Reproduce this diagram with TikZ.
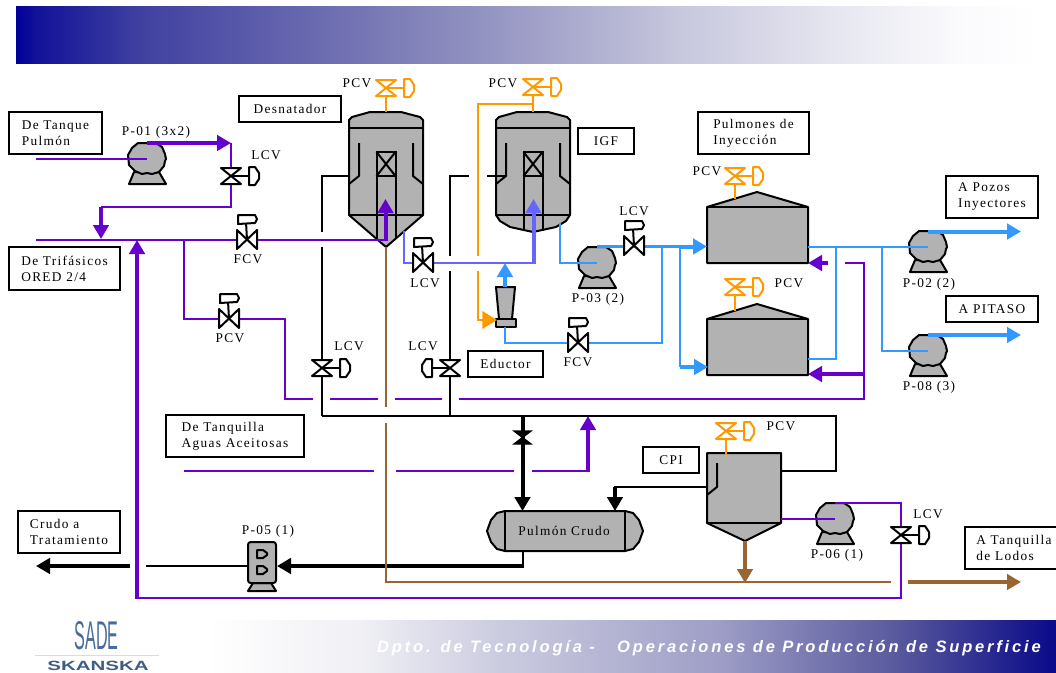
\documentclass[tikz,border=0pt]{standalone}
\usepackage{fontspec}
\usepackage{graphicx}
\usetikzlibrary{arrows.meta,calc}
\setmainfont[LetterSpace=10]{Liberation Serif}
\newfontfamily\footfont[LetterSpace=17]{Liberation Sans}
\newfontfamily\logofont{Liberation Sans}
\definecolor{purp}{HTML}{6600CC}
\definecolor{sky}{HTML}{3399FF}
\definecolor{peri}{HTML}{6666FF}
\definecolor{oran}{HTML}{FF9900}
\definecolor{brwn}{HTML}{996633}
\definecolor{eq}{HTML}{B2B2B2}
\definecolor{logoblue}{HTML}{4A6C9C}
\pgfdeclarehorizontalshading{headshade}{100bp}{
  rgb(0bp)=(0,0,0.6);
  rgb(25bp)=(0,0,0.6);
  rgb(26bp)=(0.07,0.07,0.6);
  rgb(31bp)=(0.25,0.25,0.63);
  rgb(45bp)=(0.52,0.52,0.73);
  rgb(50bp)=(0.62,0.62,0.78);
  rgb(57.5bp)=(0.78,0.78,0.87);
  rgb(65bp)=(0.90,0.90,0.94);
  rgb(71bp)=(0.98,0.98,0.99);
  rgb(75bp)=(1,1,1);
  rgb(100bp)=(1,1,1)}
\pgfdeclarehorizontalshading{footshade}{100bp}{
  rgb(0bp)=(1,1,1);
  rgb(25bp)=(1,1,1);
  rgb(34bp)=(0.94,0.94,0.96);
  rgb(42bp)=(0.80,0.80,0.88);
  rgb(55bp)=(0.62,0.62,0.78);
  rgb(65.5bp)=(0.35,0.35,0.62);
  rgb(73bp)=(0.10,0.10,0.55);
  rgb(75bp)=(0.04,0.04,0.55);
  rgb(100bp)=(0.04,0.04,0.55)}
\tikzset{
  txt/.style={font=\fontsize{10}{12}\selectfont,inner sep=0pt,align=left},
  box/.style={draw=black,line width=1.5pt,fill=white,font=\fontsize{10}{12}\selectfont,inner sep=0pt,align=left},
  eqp/.style={draw=black,fill=eq,line width=1.5pt,line join=round},
  ln/.style={draw=black,line width=1.5pt},
  pur/.style={draw=purp,line width=1.5pt},
  sky1/.style={draw=sky,line width=1.5pt},
  per1/.style={draw=peri,line width=1.8pt},
  ora1/.style={draw=oran,line width=1.5pt},
  brw1/.style={draw=brwn,line width=1.5pt},
  ar/.style={line width=3pt,-{Triangle[length=10.5pt,width=11.5pt]}},
  pics/pump/.style={code={
    \path[eqp] (-13,13)--(-18,25)--(19,25)--(12,13)--cycle;
    \path[eqp] (-9,-16)--(9,-16)--(15,-12)--(18,-5)--(19,0)--(18,2)--(17,7)--(12,13)--(5,15)--(0,14)--(-5,15)--(-12,12)--(-18,6)--(-19,-4)--(-15,-11)--cycle;
  }},
  pics/lcv/.style={code={
    \draw[#1,line width=1.5pt,line join=miter] (0,0)--(18,0);
    \draw[#1,fill=white,line width=1.5pt,line join=round] (-10,-8)--(10,-8)--(-10,8)--(10,8)--cycle;
    \draw[#1,fill=white,line width=1.5pt,line join=round] (18,-9)--(24,-9)--(28,-3)--(28,3)--(24,9)--(18,9)--cycle;
  }},
  pics/fcv/.style={code={
    \draw[#1,line width=1.5pt] (0,0)--(-1,-18);
    \draw[#1,fill=white,line width=1.5pt,line join=round] (-10,-10)--(10,9)--(10,-10)--(-10,9)--cycle;
    \draw[#1,fill=white,line width=1.5pt,line join=round] (-9,-25)--(8,-25)--(10,-21)--(8,-17)--(-9,-16)--(-9,-20)--cycle;
  }},
  pics/tank/.style={code={
    \path[eqp] (-50,15)--(0,0)--(51,15)--(51,71)--(-50,71)--cycle;
    \draw[line width=1.5pt] (-50,15)--(51,15);
  }},
  pics/internals/.style={code={
    \draw[line width=1.5pt] (-27,31)--(-27,64)--(-37,72);
    \draw[line width=1.5pt] (27,31)--(27,64)--(37,72);
    \draw[line width=1.5pt] (-37,16)--(37,16);
    \draw[line width=1.5pt] (-9.5,40) rectangle (9.5,64);
    \draw[line width=1.5pt] (-9.5,40)--(9.5,64) (9.5,40)--(-9.5,64);
    \draw[line width=1.5pt] (-37,103)--(37,103);
  }}
}
\begin{document}
\begin{tikzpicture}[x=0.75pt,y=-0.75pt]
\useasboundingbox (0,0) rectangle (1056,672);
\fill[white] (0,0) rectangle (1056,672);
% bands
\path[shading=headshade] (16,6) rectangle (1038,63);
\path[shading=footshade] (208,620) rectangle (1056,672);
\node[anchor=east,inner sep=0pt,text=white,font=\footfont\fontsize{12.4}{14}\selectfont\bfseries\itshape] (foot) at (1041,648) {Dpto. de Tecnología -\ \ \ Operaciones de Producción de Superficie};
% logo
\node[inner sep=0pt,text=logoblue] (logoA) at (96.5,636) {\resizebox{33pt}{21pt}{\logofont SADE}};
\draw[draw=brwn!25,line width=0.8pt] (35,655.5)--(159,655.5);
\node[inner sep=0pt,text=logoblue!85!black] (logoB) at (98,665.5) {\resizebox{76pt}{7pt}{\logofont\bfseries SKANSKA}};

% key points
\coordinate (p01) at (147,159);
\coordinate (p03) at (597,263);
\coordinate (p02) at (928,247);
\coordinate (p08) at (928,351);
\coordinate (p06) at (835,519);
\coordinate (v1) at (386,112);
\coordinate (v2) at (533,112);
\coordinate (t1) at (757,192);
\coordinate (t2) at (757,304);
\coordinate (apex1) at (386,247);
\coordinate (apexC) at (745,541);
\coordinate (jL) at (322,416);
\coordinate (jR) at (450,416);
\coordinate (topR) at (836,416);

% equipment
\pic (P01) at (p01) {pump};
\pic (P03) at (p03) {pump};
\pic (P02) at (p02) {pump};
\pic (P08) at (p08) {pump};
\pic (P06) at (p06) {pump};
% Desnatador
\path[eqp] (349,215)--(349,120)--(352,117)--(370,112)--(401,112)--(420,117)--(423,120)--(423,215)--(386,247)--cycle;
\pic (I1) at (v1) {internals};
\draw[line width=1.5pt] (377,176)--(377,239) (396,176)--(396,239);
% IGF
\path[eqp] (496,215)--(496,120)--(499,117)--(517,112)--(548,112)--(567,117)--(570,120)--(570,215)--(566,221)--(556,227)--(533,232)--(510,227)--(500,221)--cycle;
\pic (I2) at (v2) {internals};
\draw[line width=1.5pt] (523.5,176)--(523.5,231) (542.5,176)--(542.5,231);
% tanks
\pic (T1) at (t1) {tank};
\pic (T2) at (t2) {tank};
% eductor
\path[eqp] (496,287)--(515,287)--(512,319)--(499,319)--cycle;
\path[eqp] (496,319) rectangle (516,327);
% Pulmon crudo
\path[eqp] (505,511)--(497,513)--(491,520)--(487,531)--(491,542)--(497,549)--(505,551)--(625,551)--(633,549)--(639,542)--(643,531)--(639,520)--(633,513)--(625,511)--cycle;
\draw[line width=1.5pt] (505,511)--(505,551) (625,511)--(625,551);
% CPI tank
\path[eqp] (707,453)--(781,453)--(781,523)--(745,541)--(707,523)--cycle;
\draw[line width=1.5pt] (707,523)--(781,523);
\draw[line width=1.5pt] (717,463)--(717,487)--(707,495);
% P-05
\path[eqp] (253,583)--(248,591)--(276,591)--(271,583)--cycle;
\path[eqp,rounded corners=2pt] (248,542) rectangle (276,583);
\path[eqp] (257,550)--(263,550)--(267,553)--(267,555)--(263,558)--(257,558)--cycle;
\path[eqp] (257,566)--(263,566)--(267,569)--(267,571)--(263,574)--(257,574)--cycle;

% black process lines
\draw[ln] (349,176)--(322,176)--(322,232);
\draw[ln] (322,247)--(jL);
\draw[ln] (jL)--(topR)--(836,471)--(781,471);
\draw[ln] (487,176)--(506,176);
\draw[ln] (469,176)--(450,176)--(450,256);
\draw[ln] (450,271)--(jR);
\draw[ln,line width=2pt] (707,487)--(615,487)--(615,500);
\draw[line width=3pt,-{Triangle[length=10.5pt,width=11.5pt]}] (615,487)--(615,511);
\draw[line width=3pt,-{Triangle[length=10.5pt,width=11.5pt]}] (522.5,416)--(522.5,511);
\draw[ln] (523,551)--(523,566);
\draw[line width=3pt,-{Triangle[length=10.5pt,width=11.5pt]}] (524,566)--(277,566);
\draw[ln] (248,566)--(146,566);
\draw[line width=3pt,-{Triangle[length=10.5pt,width=11.5pt]}] (130,566)--(36,566);

% brown
\draw[brw1] (apex1)--(386,407);
\draw[brw1] (386,423)--(386,582)--(891,582);
\draw[draw=brwn,ar] (apexC)--(745,583);
\draw[draw=brwn,ar] (908,582)--(1021,582);

% purple
\draw[pur] (36,159)--(p01);
\draw[draw=purp,ar] (147,143)--(231,143);
\draw[pur] (231,143)--(231,207)--(101,207);
\draw[draw=purp,ar] (101,207)--(101,239);
\draw[pur] (36,240)--(386,240);
\draw[draw=purp,ar] (385.5,241)--(385.5,199);
\draw[pur] (184,240)--(184,319)--(285,319)--(285,399)--(313,399);
\draw[pur] (330,399)--(378,399);
\draw[pur] (395,399)--(442,399);
\draw[pur] (459,399)--(864,399)--(864,263)--(845,263);
\draw[draw=purp,ar] (864,374)--(808,374);
\draw[draw=purp,ar] (828,263)--(808,263);
\draw[pur] (184,471)--(374,471);
\draw[pur] (396,471)--(514,471);
\draw[pur] (532,471)--(588,471);
\draw[draw=purp,ar] (588,472)--(588,416);
\draw[pur] (781,519)--(p06);
\draw[pur] (835,503)--(901,503)--(901,598)--(137,598);
\draw[draw=purp,ar] (137,599)--(137,240);

% periwinkle
\draw[per1] (404,231)--(404,263)--(533.5,263);
\draw[draw=peri,ar] (533.5,264)--(533.5,199);

% sky blue
\draw[draw=sky,ar] (505,287)--(505,263);
\draw[sky1] (505,327)--(505,343)--(662,343)--(662,246);
\draw[sky1] (560,223)--(560,263)--(p03);
\draw[draw=sky,line width=2.5pt] (597,246.5)--(694,246.5);
\draw[draw=sky,ar] (680,246.5)--(707,246.5);
\draw[sky1] (680,246.5)--(680,367);
\draw[draw=sky,ar] (680,367)--(708,367);
\draw[sky1] (808,247)--(p02);
\draw[sky1] (808,359)--(836,359)--(836,247);
\draw[sky1] (882,247)--(882,351)--(p08);
\draw[draw=sky,ar] (928,231.5)--(1021,231.5);
\draw[draw=sky,ar] (928,335)--(1021,335);

% orange
\draw[ora1] (386,88)--(v1);
\draw[ora1] (533,88)--(v2);
\draw[ora1] (533,103.5)--(477.5,103.5)--(477.5,256);
\draw[ora1] (477.5,271)--(477.5,320)--(484,320);
\draw[draw=oran,line width=2pt,-{Triangle[length=11pt,width=13pt]}] (478,320)--(497,320);
\draw[ora1] (735,176)--(735,199);
\draw[ora1] (735,287)--(735,311);
\draw[ora1] (726,431)--(726,455);

% valves
\pic (VPCV1) at (386,88) {lcv=oran};
\pic (VPCV2) at (533,87) {lcv=oran};
\pic (VPCV3) at (735,176) {lcv=oran};
\pic (VPCV4) at (735,287) {lcv=oran};
\pic (VPCV5) at (726,431) {lcv=oran};
\pic (VL1) at (231,176) {lcv=black};
\pic (VL2) at (322,368) {lcv=black};
\pic[xscale=-1] (VL3) at (450,368) {lcv=black};
\pic (VL4) at (901,535) {lcv=black};
\pic (VF1) at (247,240) {fcv=black};
\pic (VF2) at (229,319) {fcv=black};
\pic (VF3) at (423,263) {fcv=black};
\pic (VF4) at (634,246) {fcv=black};
\pic (VF5) at (578,343) {fcv=black};
\path[fill=black,draw=black,line width=1pt] (514,431)--(531,431)--(514,444)--(531,444)--cycle;

% label boxes
\newcommand{\bx}[6]{\node[box,minimum width={(#4-#2)*0.75pt},minimum height={(#5-#3)*0.75pt}] (#1) at ({(#2+#4)/2},{(#3+#5)/2}) {#6};}
\bx{bTanque}{9}{112}{102}{154}{De Tanque\\Pulmón}
\bx{bDesn}{239}{96}{341}{122}{Desnatador}
\bx{bTrif}{9}{247}{120}{290}{De Trifásicos\\ORED 2/4}
\bx{bIGF}{578}{128}{634}{154}{IGF}
\bx{bPulm}{698}{112}{809}{154}{Pulmones de\\Inyección}
\bx{bPozos}{946}{176}{1038}{218}{A Pozos\\Inyectores}
\bx{bPit}{946}{296}{1038}{322}{A PITASO}
\bx{bEduc}{468}{351}{543}{377}{Eductor}
\bx{bAgua}{166}{415}{304}{457}{De Tanquilla\\Aguas Aceitosas}
\bx{bCPI}{643}{447}{699}{473}{CPI}
\bx{bCrudo}{18}{511}{120}{553}{Crudo a\\Tratamiento}
\node[box,minimum width=90pt,minimum height=31.5pt,anchor=west] (bLodos) at (964,548) {};
\node[txt] (tLodos) at (1014,548) {A Tanquilla\\de Lodos};

% text labels
\node[txt] (a0) at (564,531) {Pulmón Crudo};
\node[txt] (a1) at (156,132) {P-01 (3x2)};
\node[txt] (a2) at (266,155) {LCV};
\node[txt] (a3) at (248,259) {FCV};
\node[txt] (a4) at (230,338) {PCV};
\node[txt] (a5) at (357,83) {PCV};
\node[txt] (a6) at (503,83) {PCV};
\node[txt] (a7) at (425,283) {LCV};
\node[txt] (a8) at (349,346) {LCV};
\node[txt] (a9) at (423,346) {LCV};
\node[txt] (a10) at (634,211) {LCV};
\node[txt] (a11) at (598,299) {P-03 (2)};
\node[txt] (a12) at (578,362) {FCV};
\node[txt] (a13) at (707,171) {PCV};
\node[txt] (a14) at (789,283) {PCV};
\node[txt] (a15) at (929,284) {P-02 (2)};
\node[txt] (a16) at (929,387) {P-08 (3)};
\node[txt] (a17) at (781,426) {PCV};
\node[txt] (a18) at (928,514) {LCV};
\node[txt] (a19) at (837,555) {P-06 (1)};
\node[txt] (a20) at (268,531) {P-05 (1)};
\end{tikzpicture}
\end{document}
